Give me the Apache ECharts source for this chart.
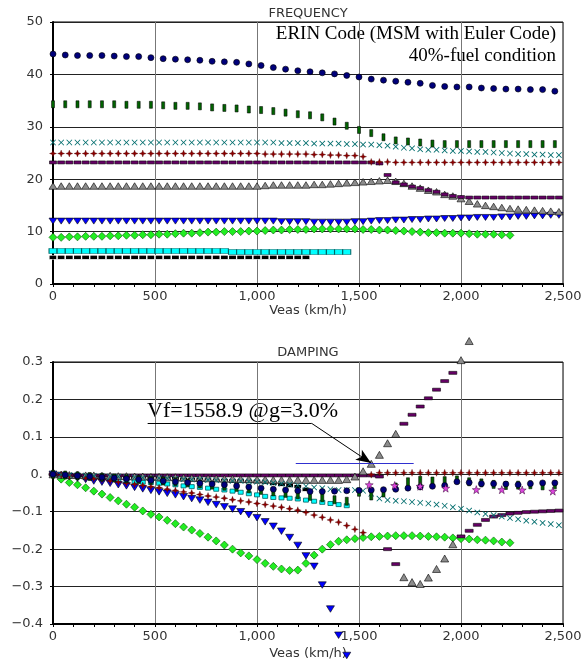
<!DOCTYPE html>
<html>
<head>
<meta charset="utf-8">
<script src="https://cdn.jsdelivr.net/npm/echarts@6/dist/echarts.min.js"></script>
<style>
  html, body { margin: 0; padding: 0; background: #fff; }
  #chart { width: 586px; height: 668px; }
</style>
</head>
<body>
<div id="chart"></div>
<script>
// velocity grids (km/h)
const veasFine = [
  0,40,80,120,160,200,240,280,320,360,
  400,440,480,520,560,600,640,680,720,760,
  800,840,880,920,960,1000,1040,1080,1120,1160,
  1200,1240,1280,1320,1360,1400,1440,1480,1520,1560,
  1600,1640,1680,1720,1760,1800,1840,1880,1920,1960,
  2000,2040,2080,2120,2160,2200,2240,2280,2320,2360,
  2400,2440,2480
];
const veasCoarse = [0,60,120,180,240,300,360,420,480,540,600,660,720,780,840,900,960,1020,1080,1140,1200,
  1260,1320,1380,1440,1500,1560,1620,1680,1740,1800,1860,1920,1980,2040,2100,2160,2220,2280,2340,2400,2460];
const starVeas = [1550,1675,1800,1925,2075,2200,2300,2450];

// frequency (Hz)
const freqNavy = [43.9,43.7,43.6,43.6,43.6,43.5,43.4,43.4,43.2,43.0,42.9,42.8,42.7,42.5,42.4,42.3,42.0,41.7,41.3,41.0,
  40.7,40.5,40.3,40.1,39.8,39.5,39.1,38.9,38.7,38.5,38.3,37.9,37.7,37.6,37.6,37.4,37.3,37.2,37.2,37.1,37.1,36.8];
const freqBar = [34.3,34.3,34.3,34.3,34.3,34.3,34.2,34.2,34.2,34.1,34.0,34.0,33.9,33.7,33.6,33.5,33.3,33.2,33.0,32.7,
  32.4,32.2,31.8,31.0,30.2,29.4,28.8,28.0,27.4,27.2,27.0,26.8,26.7,26.7,26.7,26.7,26.7,26.7,26.7,26.7,26.7,26.7];
const freqTeal = [
  27.0,27.0,27.0,27.0,27.0,27.0,27.0,27.0,27.0,27.0,
  27.0,27.0,27.0,27.0,27.0,27.0,27.0,27.0,27.0,27.0,
  27.0,27.0,27.0,27.0,27.0,27.0,27.0,27.0,26.9,26.9,
  26.9,26.9,26.8,26.8,26.8,26.8,26.7,26.7,26.6,26.6,
  26.5,26.4,26.2,26.0,25.9,25.7,25.6,25.6,25.5,25.4,
  25.4,25.3,25.2,25.2,25.1,25.0,24.9,24.8,24.8,24.7,
  24.7,24.6,24.6
];
const freqRed = [
  24.9,24.9,24.9,24.9,24.9,24.9,24.9,24.9,24.9,24.9,
  24.9,24.9,24.9,24.9,24.9,24.9,24.9,24.9,24.9,24.9,
  24.9,24.9,24.9,24.9,24.9,24.9,24.8,24.8,24.8,24.8,
  24.8,24.8,24.7,24.7,24.6,24.6,24.5,24.5,24.3,23.3,
  23.3,23.3,23.2,23.2,23.2,23.2,23.2,23.2,23.2,23.2,
  23.2,23.2,23.2,23.2,23.2,23.2,23.2,23.2,23.2,23.2,
  23.2,23.2,23.2
];
const freqPurple = [
  23.2,23.2,23.2,23.2,23.2,23.2,23.2,23.2,23.2,23.2,
  23.2,23.2,23.2,23.2,23.2,23.2,23.2,23.2,23.2,23.2,
  23.2,23.2,23.2,23.2,23.2,23.2,23.2,23.2,23.2,23.2,
  23.2,23.2,23.2,23.2,23.2,23.2,23.2,23.2,23.2,23.2,
  23.0,20.8,19.4,19.0,18.6,18.3,17.9,17.6,17.1,16.8,
  16.6,16.5,16.5,16.5,16.5,16.5,16.5,16.5,16.5,16.5,
  16.5,16.5,16.5
];
const freqGrey = [
  18.7,18.7,18.7,18.7,18.7,18.7,18.7,18.7,18.7,18.7,
  18.7,18.7,18.7,18.7,18.7,18.7,18.7,18.7,18.7,18.7,
  18.7,18.7,18.7,18.7,18.7,18.7,18.8,18.9,18.9,18.9,
  18.9,18.9,19.0,19.0,19.1,19.2,19.3,19.4,19.5,19.6,
  19.7,19.8,19.6,19.2,18.7,18.3,17.9,17.6,17.1,16.8,
  16.3,15.8,15.3,15.0,14.8,14.6,14.4,14.3,14.2,14.1,
  14.0,13.9,13.8
];
const freqBlue = [
  12.0,12.0,12.0,12.0,12.0,12.0,12.0,12.0,12.0,12.0,
  12.0,12.0,12.0,12.0,12.0,12.0,12.0,12.0,12.0,12.0,
  12.0,12.0,12.0,12.0,12.0,12.0,12.0,12.0,11.9,11.9,
  11.9,11.9,11.8,11.8,11.8,11.8,11.8,11.9,11.9,12.0,
  12.1,12.1,12.2,12.2,12.3,12.3,12.4,12.4,12.5,12.5,
  12.6,12.6,12.7,12.7,12.7,12.8,12.8,12.9,12.9,13.0,
  13.0,13.1,13.1
];
const freqGreen = [
  8.9,8.9,9.0,9.0,9.1,9.1,9.1,9.2,9.2,9.3,
  9.3,9.4,9.4,9.5,9.5,9.6,9.7,9.7,9.8,9.9,
  9.9,10.0,10.0,10.0,10.1,10.1,10.2,10.3,10.3,10.4,
  10.4,10.4,10.5,10.5,10.5,10.5,10.5,10.5,10.4,10.4,
  10.3,10.3,10.2,10.1,10.0,9.9,9.8,9.8,9.7,9.7,
  9.7,9.6,9.5,9.5,9.5,9.4,9.3
];
const freqCyan = [
  6.3,6.3,6.3,6.3,6.3,6.3,6.3,6.3,6.3,6.3,
  6.3,6.3,6.3,6.3,6.3,6.3,6.3,6.3,6.3,6.3,
  6.3,6.3,6.1,6.1,6.1,6.1,6.1,6.1,6.1,6.1,
  6.1,6.1,6.1,6.1,6.1,6.1,6.1
];
const freqBlack = [
  5.1,5.1,5.1,5.1,5.1,5.1,5.1,5.1,5.1,5.1,
  5.1,5.1,5.1,5.1,5.1,5.1,5.1,5.1,5.1,5.1,
  5.1,5.1,5.1,5.1,5.1,5.1,5.1,5.1,5.1,5.1,
  5.1,5.1
];

// damping (g)
const dampNavy = [0,-0.002,-0.004,-0.006,-0.008,-0.01,-0.012,-0.014,-0.016,-0.018,-0.02,-0.022,-0.024,-0.026,-0.028,
  -0.031,-0.034,-0.037,-0.04,-0.042,-0.044,-0.046,-0.046,-0.045,-0.044,-0.043,-0.042,-0.041,-0.04,-0.037,-0.034,
  -0.032,-0.03,-0.02,-0.022,-0.025,-0.025,-0.026,-0.028,-0.025,-0.023,-0.023];
const dampBar = [0,-0.002,-0.004,-0.006,-0.008,-0.01,-0.012,-0.014,-0.016,-0.018,-0.02,-0.023,-0.026,-0.029,-0.032,
  -0.035,-0.039,-0.043,-0.047,-0.051,-0.055,-0.059,-0.063,-0.068,-0.072,-0.048,-0.058,-0.05,-0.034,-0.02,-0.016,
  -0.018,-0.017,-0.015,-0.02,-0.023,-0.027,-0.03,-0.029,-0.028,-0.031,-0.028];
const dampTeal = [
  0,-0.001,-0.002,-0.002,-0.003,-0.004,-0.005,-0.006,-0.006,-0.007,
  -0.008,-0.009,-0.01,-0.01,-0.011,-0.012,-0.013,-0.014,-0.014,-0.015,
  -0.016,-0.017,-0.018,-0.018,-0.019,-0.02,-0.021,-0.023,-0.025,-0.027,
  -0.03,-0.032,-0.035,-0.037,-0.04,-0.042,-0.042,-0.042,-0.044,-0.052,
  -0.065,-0.069,-0.071,-0.072,-0.074,-0.076,-0.078,-0.081,-0.084,-0.088,
  -0.092,-0.097,-0.102,-0.106,-0.109,-0.113,-0.117,-0.12,-0.124,-0.127,
  -0.13,-0.133,-0.136
];
const dampRed = [
  0,-0.002,-0.005,-0.007,-0.01,-0.012,-0.015,-0.018,-0.021,-0.024,
  -0.027,-0.03,-0.033,-0.036,-0.04,-0.043,-0.047,-0.05,-0.054,-0.058,
  -0.061,-0.064,-0.068,-0.071,-0.074,-0.078,-0.081,-0.085,-0.088,-0.092,
  -0.096,-0.102,-0.109,-0.115,-0.122,-0.128,-0.137,-0.147,-0.156,-0.001,
  0.004,0.004,0.004,0.004,0.004,0.004,0.004,0.004,0.004,0.004,
  0.004,0.004,0.004,0.004,0.004,0.004,0.004,0.004,0.004,0.004,
  0.004,0.004,0.004
];
const dampPurple = [
  0,-0.003,-0.003,-0.003,-0.003,-0.003,-0.003,-0.003,-0.003,-0.003,
  -0.003,-0.003,-0.003,-0.003,-0.003,-0.003,-0.003,-0.003,-0.003,-0.003,
  -0.003,-0.003,-0.003,-0.003,-0.003,-0.003,-0.003,-0.003,-0.003,-0.003,
  -0.003,-0.003,-0.003,-0.003,-0.003,-0.003,-0.003,-0.003,-0.003,-0.003,
  -0.006,-0.2,-0.24,0.135,0.159,0.181,0.203,0.226,0.249,0.271,
  -0.166,-0.151,-0.135,-0.122,-0.113,-0.109,-0.105,-0.103,-0.101,-0.1,
  -0.099,-0.098,-0.097
];
const dampGrey = [
  0,-0.001,-0.002,-0.002,-0.003,-0.003,-0.004,-0.004,-0.005,-0.005,
  -0.006,-0.006,-0.007,-0.007,-0.008,-0.008,-0.009,-0.01,-0.01,-0.011,
  -0.011,-0.012,-0.012,-0.013,-0.013,-0.014,-0.014,-0.015,-0.015,-0.015,
  -0.015,-0.015,-0.015,-0.015,-0.015,-0.015,-0.013,-0.006,0.008,0.028,
  0.052,0.083,0.108,-0.275,-0.288,-0.293,-0.276,-0.253,-0.225,-0.187,
  0.305,0.356
];
const dampBlue = [
  0,-0.003,-0.006,-0.01,-0.014,-0.018,-0.021,-0.024,-0.028,-0.031,
  -0.035,-0.039,-0.043,-0.047,-0.051,-0.055,-0.06,-0.065,-0.069,-0.075,
  -0.081,-0.087,-0.093,-0.1,-0.108,-0.116,-0.127,-0.139,-0.152,-0.169,
  -0.19,-0.218,-0.246,-0.296,-0.36,-0.43,-0.484
];
const dampGreen = [
  0,-0.013,-0.022,-0.028,-0.036,-0.045,-0.053,-0.062,-0.071,-0.08,
  -0.088,-0.098,-0.107,-0.114,-0.123,-0.132,-0.141,-0.149,-0.158,-0.168,
  -0.178,-0.189,-0.2,-0.21,-0.218,-0.228,-0.238,-0.246,-0.253,-0.257,
  -0.256,-0.238,-0.216,-0.2,-0.188,-0.179,-0.175,-0.172,-0.169,-0.167,
  -0.166,-0.165,-0.164,-0.164,-0.164,-0.165,-0.166,-0.167,-0.168,-0.17,
  -0.172,-0.173,-0.175,-0.176,-0.178,-0.181,-0.183
];
const dampCyan = [
  0,-0.002,-0.005,-0.007,-0.009,-0.011,-0.012,-0.014,-0.016,-0.018,
  -0.019,-0.021,-0.022,-0.024,-0.026,-0.028,-0.031,-0.033,-0.035,-0.037,
  -0.04,-0.042,-0.045,-0.048,-0.052,-0.055,-0.059,-0.062,-0.063,-0.064,
  -0.066,-0.069,-0.072,-0.075,-0.078,-0.081,-0.084
];
const dampBlack = [
  0,-0.001,-0.002,-0.002,-0.003,-0.004,-0.005,-0.006,-0.006,-0.007,
  -0.008,-0.009,-0.01,-0.01,-0.011,-0.012,-0.013,-0.014,-0.014,-0.015,
  -0.016,-0.017,-0.018,-0.018,-0.019,-0.02,-0.021,-0.024,-0.027,-0.03,
  -0.033,-0.04
];
const dampStar = [-0.028,-0.03,-0.032,-0.037,-0.041,-0.041,-0.042,-0.045];

// flutter note
const flutterSpeed = 1558.9;
const flutterG = 0.03;
const noteText = 'Vf=1558.9 @g=3.0%';

const downTri = 'path://M0,0L10,0L5,9Z';
const xMark = 'path://M0,1L1,0L5,4L9,0L10,1L6,5L10,9L9,10L5,6L1,10L0,9L4,5Z';
const star4 = 'path://M5,0L6.3,3.7L10,5L6.3,6.3L5,10L3.7,6.3L0,5L3.7,3.7Z';
const star5 = 'path://M5,0L6.2,3.6L10,3.8L6.9,6.1L8.1,9.8L5,7.6L1.9,9.8L3.1,6.1L0,3.8L3.8,3.6Z';

const chart = echarts.init(document.getElementById('chart'));

function pts(xs, ys) {
  return ys.map((y, i) => [xs[i], y]);
}

function mark(gi, xs, ys, symbol, size, color, border, bw, extra) {
  return Object.assign({
    type: 'scatter',
    xAxisIndex: gi,
    yAxisIndex: gi,
    data: pts(xs, ys),
    symbol: symbol,
    symbolSize: size,
    clip: gi === 0,
    silent: true,
    itemStyle: { color: color, borderColor: border || color, borderWidth: bw || 0, opacity: 1 }
  }, extra || {});
}

function xAxis(gi, gap) {
  return {
    type: 'value', gridIndex: gi, min: 0, max: 2500, interval: 500,
    name: 'Veas (km/h)', nameLocation: 'middle', nameGap: gap,
    nameTextStyle: { fontFamily: 'DejaVu Sans', fontSize: 13, color: '#333' },
    axisLine: { show: true, onZero: false, lineStyle: { color: '#000', width: 2 } },
    axisTick: { show: true, length: 3, lineStyle: { color: '#000' } },
    minorTick: { show: true, splitNumber: 5, length: 3, lineStyle: { color: '#000' } },
    axisLabel: { fontFamily: 'DejaVu Sans', fontSize: 13, color: '#333', margin: 6,
      formatter: v => v.toLocaleString('en-US') },
    splitLine: { show: true, lineStyle: { color: '#777', width: 1 } }
  };
}

function yAxis(gi, min, max, step, fmt) {
  return {
    type: 'value', gridIndex: gi, min: min, max: max, interval: step,
    axisLine: { show: true, lineStyle: { color: '#000', width: 2 } },
    axisTick: { show: true, length: 3, lineStyle: { color: '#000' } },
    axisLabel: { fontFamily: 'DejaVu Sans', fontSize: 13, color: '#333', margin: 10, formatter: fmt },
    splitLine: { show: true, lineStyle: { color: '#222', width: 1 } }
  };
}

function gLabel(v) {
  if (Math.abs(v) < 1e-9) return '0.';
  return (v < 0 ? '\u2212' : '') + Math.abs(v).toFixed(1);
}

const noteLine = { color: '#000', width: 1, type: 'solid' };
const gLine = { color: '#3030d0', width: 1, type: 'solid' };

const series = [
  // frequency
  mark(0, veasFine, freqBlack, 'rect', [8, 4], '#000', '#fff', 0.8),
  mark(0, veasFine, freqCyan, 'rect', [8, 5], '#00ffff', '#006060', 0.8),
  mark(0, veasFine, freqGreen, 'diamond', 8, '#22ee22', '#005500', 0.6),
  mark(0, veasFine, freqBlue, downTri, [8, 6], '#0000ff', '#000', 0.6),
  mark(0, veasFine, freqGrey, 'triangle', [8, 6.5], '#8c8c8c', '#000', 0.6),
  mark(0, veasFine, freqPurple, 'rect', [7, 3], '#660066', '#000', 0.5),
  mark(0, veasFine, freqRed, star4, 7, '#8b0000', '#400000', 0.3),
  mark(0, veasFine, freqTeal, xMark, 6, '#006d6d'),
  mark(0, veasCoarse, freqBar, 'rect', [3, 7], '#006400', '#000', 0.5),
  mark(0, veasCoarse, freqNavy, 'circle', 6, '#00007a', '#000', 0.6),
  // damping
  mark(1, veasFine, dampBlack, 'rect', [8, 4], '#000', '#fff', 0.8),
  mark(1, veasFine, dampCyan, 'rect', [5, 4], '#00ffff', '#006060', 0.8),
  mark(1, veasFine, dampGreen, 'diamond', 8, '#22ee22', '#005500', 0.6),
  mark(1, veasFine, dampBlue, downTri, [8, 6.5], '#0000ff', '#000', 0.6),
  mark(1, veasFine, dampPurple, 'rect', [8, 3], '#660066', '#000', 0.5),
  mark(1, veasFine, dampGrey, 'triangle', [8, 7], '#8c8c8c', '#000', 0.6, {
    markLine: {
      silent: true, symbol: ['none', 'none'], label: { show: false }, animation: false,
      lineStyle: noteLine,
      data: [
        [{ coord: [464, 0.136], lineStyle: noteLine }, { coord: [1268, 0.136], lineStyle: noteLine }],
        [{ coord: [1268, 0.136], lineStyle: noteLine },
         { coord: [flutterSpeed, flutterG], symbol: 'arrow', symbolSize: [9, 15], lineStyle: noteLine }],
        [{ coord: [1190, flutterG], lineStyle: gLine }, { coord: [1768, flutterG], lineStyle: gLine }]
      ]
    }
  }),
  mark(1, veasFine, dampRed, star4, 7, '#8b0000', '#400000', 0.3),
  mark(1, veasFine, dampTeal, xMark, 6, '#006d6d'),
  mark(1, veasCoarse, dampBar, 'rect', [3, 8], '#006400', '#000', 0.5),
  mark(1, veasCoarse, dampNavy, 'circle', 6, '#00007a', '#000', 0.6),
  mark(1, starVeas, dampStar, star5, 8, '#dd44dd', '#330033', 0.5)
];

const option = {
  animation: false,
  backgroundColor: '#fff',
  grid: [
    { left: 53, right: 23, top: 22, height: 262, show: true, borderColor: '#000', borderWidth: 1 },
    { left: 53, right: 23, top: 362, height: 262, show: true, borderColor: '#000', borderWidth: 1 }
  ],
  xAxis: [xAxis(0, 20), xAxis(1, 23)],
  yAxis: [
    yAxis(0, 0, 50, 10, v => String(v)),
    yAxis(1, -0.4, 0.3, 0.1, gLabel)
  ],
  series: series,
  graphic: [
    { type: 'text', x: 308, y: 14, silent: true,
      style: { text: 'FREQUENCY', textAlign: 'center', textVerticalAlign: 'middle',
        font: '13px "DejaVu Sans"', fill: '#333' } },
    { type: 'text', x: 308, y: 353, silent: true,
      style: { text: 'DAMPING', textAlign: 'center', textVerticalAlign: 'middle',
        font: '13px "DejaVu Sans"', fill: '#333' } },
    { type: 'text', x: 556, y: 34, silent: true,
      style: { text: 'ERIN Code (MSM with Euler Code)', textAlign: 'right', textVerticalAlign: 'middle',
        font: '19px "Liberation Serif"', fill: '#000' } },
    { type: 'text', x: 556, y: 56, silent: true,
      style: { text: '40%-fuel condition', textAlign: 'right', textVerticalAlign: 'middle',
        font: '19px "Liberation Serif"', fill: '#000' } },
    { type: 'text', x: 147, y: 411, silent: true,
      style: { text: noteText, textAlign: 'left', textVerticalAlign: 'middle',
        font: '22px "Liberation Serif"', fill: '#000' } }
  ]
};

chart.setOption(option);

window.addEventListener('resize', () => {
  chart.resize();
});
</script>
</body>
</html>
